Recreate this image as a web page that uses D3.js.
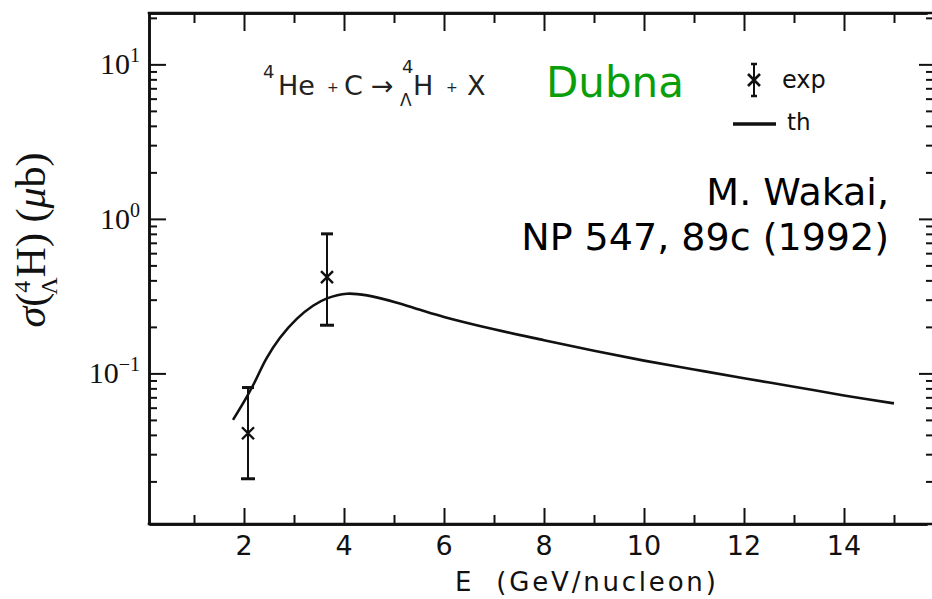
<!DOCTYPE html>
<html>
<head>
<meta charset="utf-8">
<script src="https://cdn.jsdelivr.net/npm/d3@7"></script>
<style>
  body { margin: 0; background: #fff; }
  svg { display: block; }
  .axis path, .axis line { stroke: #111; }
</style>
</head>
<body>
<svg id="chart" width="932" height="599"></svg>
<script>
//Theory curve
const curveE = [1.78, 2.05, 2.2, 2.45, 2.72, 3.06, 3.38, 3.66, 4.06, 4.46, 5.06, 5.52, 6, 7, 8, 9, 10, 11, 12, 13, 14, 15];
const curveSigma = [0.05, 0.07, 0.086, 0.125, 0.17, 0.226, 0.274, 0.306, 0.328, 0.32, 0.287, 0.258, 0.232, 0.193, 0.164, 0.14, 0.121, 0.106, 0.093, 0.082, 0.072, 0.064];

//Experimental points with error bars
const expE = [2.08, 3.66];
const expSigma = [0.041, 0.42];
const expLo = [0.0208, 0.205];
const expHi = [0.081, 0.8];

//Tick values
const xMajor = [2, 4, 6, 8, 10, 12, 14];
const xMinor = [1, 3, 5, 7, 9, 11, 13, 15];
const yMajor = [0.1, 1, 10];
const yMajorExp = ["\u22121", "0", "1"];

const ink = "#111";
const svg = d3.select("#chart");

//Scales ----------
const x = d3.scaleLinear().domain([0.1, 15.66]).range([149, 927]);
const y = d3.scaleLog().domain([0.0106, 21.5]).range([524, 13]);

//Minor log ticks 2..9 for each decade
var yMinor = [];
[0.01, 0.1, 1, 10].forEach(function (d) {
  for (var k = 2; k <= 9; k++) {
    if (d * k < 21.5) yMinor.push(d * k);
  }
});

function drawAxis(axis, tx, ty) {
  const g = svg.append("g").attr("class", "axis").attr("transform", "translate(" + tx + "," + ty + ")").call(axis);
  g.selectAll("path").attr("stroke-width", 2.6).attr("fill", "none");
  g.selectAll("line").attr("stroke-width", 2);
  g.selectAll("text").remove();
  return g;
}

//Bottom and top axes (ticks inward)
drawAxis(d3.axisTop(x).tickValues(xMajor).tickSize(16).tickSizeOuter(0).tickFormat(""), 0, 524);
drawAxis(d3.axisTop(x).tickValues(xMinor).tickSize(9).tickSizeOuter(0).tickFormat(""), 0, 524);
drawAxis(d3.axisBottom(x).tickValues(xMajor).tickSize(18).tickSizeOuter(0).tickFormat(""), 0, 13);
drawAxis(d3.axisBottom(x).tickValues(xMinor).tickSize(10).tickSizeOuter(0).tickFormat(""), 0, 13);
svg.append("line").attr("x1", 147.7).attr("x2", 932).attr("y1", 13).attr("y2", 13).attr("stroke", ink).attr("stroke-width", 2.6);
svg.append("line").attr("x1", 147.7).attr("x2", 932).attr("y1", 524).attr("y2", 524).attr("stroke", ink).attr("stroke-width", 2.6);

//Left and right axes (ticks inward)
drawAxis(d3.axisRight(y).tickValues(yMajor).tickSize(17).tickSizeOuter(0).tickFormat(""), 149, 0);
drawAxis(d3.axisRight(y).tickValues(yMinor).tickSize(8).tickSizeOuter(0).tickFormat(""), 149, 0);
drawAxis(d3.axisLeft(y).tickValues(yMajor).tickSize(14).tickSizeOuter(0).tickFormat(""), 933, 0);
drawAxis(d3.axisLeft(y).tickValues(yMinor).tickSize(7).tickSizeOuter(0).tickFormat(""), 933, 0);

//X tick labels
svg.append("g")
  .selectAll("text")
  .data(xMajor)
  .join("text")
  .attr("x", (d) => x(d))
  .attr("y", 555)
  .attr("text-anchor", "middle")
  .attr("font-family", "DejaVu Sans")
  .attr("font-size", 27)
  .attr("fill", ink)
  .text((d) => d);

//Y tick labels 10^n
const ylab = svg.append("g")
  .selectAll("text")
  .data(yMajor)
  .join("text")
  .attr("x", 140)
  .attr("y", (d) => y(d) + 10)
  .attr("text-anchor", "end")
  .attr("font-family", "Liberation Serif")
  .attr("font-size", 30)
  .attr("fill", ink);
ylab.append("tspan").text("10");
ylab.append("tspan")
  .attr("dy", -12)
  .attr("font-size", 20)
  .text((d, i) => yMajorExp[i]);

//Axis titles
svg.append("text")
  .attr("x", 455)
  .attr("y", 591)
  .attr("font-family", "DejaVu Sans")
  .attr("font-size", 26)
  .attr("letter-spacing", 2.8)
  .attr("fill", ink)
  .attr("xml:space", "preserve")
  .text("E  (GeV/nucleon)");

const ytitle = svg.append("text")
  .attr("transform", "translate(45,240) rotate(-90)")
  .attr("text-anchor", "middle")
  .attr("font-family", "Liberation Serif")
  .attr("font-size", 42)
  .attr("fill", ink);
ytitle.append("tspan").attr("font-style", "italic").text("\u03c3");
ytitle.append("tspan").text("(");
ytitle.append("tspan").attr("font-size", 24).attr("dy", -15).text("4");
ytitle.append("tspan").attr("font-size", 24).attr("dx", -14).attr("dy", 27).text("\u039b");
ytitle.append("tspan").attr("dy", -12).text("H) (");
ytitle.append("tspan").attr("font-style", "italic").text("\u03bc");
ytitle.append("tspan").text("b)");

//Theory line
const line = d3.line()
  .x((d, i) => x(curveE[i]))
  .y((d) => y(d))
  .curve(d3.curveCatmullRom);
svg.append("path")
  .datum(curveSigma)
  .attr("d", line)
  .attr("fill", "none")
  .attr("stroke", ink)
  .attr("stroke-width", 2.6);

//Experimental points
const pts = svg.append("g").selectAll("g").data(expE).join("g");
pts.append("line")
  .attr("x1", (d) => x(d)).attr("x2", (d) => x(d))
  .attr("y1", (d, i) => y(expLo[i])).attr("y2", (d, i) => y(expHi[i]))
  .attr("stroke", ink).attr("stroke-width", 2);
pts.append("line")
  .attr("x1", (d) => x(d) - 7).attr("x2", (d) => x(d) + 7)
  .attr("y1", (d, i) => y(expLo[i])).attr("y2", (d, i) => y(expLo[i]))
  .attr("stroke", ink).attr("stroke-width", 3);
pts.append("line")
  .attr("x1", (d) => x(d) - 6).attr("x2", (d) => x(d) + 6)
  .attr("y1", (d, i) => y(expHi[i])).attr("y2", (d, i) => y(expHi[i]))
  .attr("stroke", ink).attr("stroke-width", 3);
pts.append("path")
  .attr("d", function (d, i) {
    const cx = x(d), cy = y(expSigma[i]), r = 6;
    return "M" + (cx - r) + "," + (cy - r) + "L" + (cx + r) + "," + (cy + r) +
      "M" + (cx + r) + "," + (cy - r) + "L" + (cx - r) + "," + (cy + r);
  })
  .attr("stroke", ink).attr("stroke-width", 2.4).attr("fill", "none");

//Reaction label
const rx = [
  { t: "4", x: 263, y: 78, s: 18 },
  { t: "He", x: 278, y: 95, s: 27 },
  { t: "+", x: 327, y: 92, s: 14 },
  { t: "C", x: 344, y: 95, s: 27 },
  { t: "\u2192", x: 371, y: 95, s: 27 },
  { t: "4", x: 402, y: 73, s: 18 },
  { t: "\u039b", x: 400, y: 106, s: 17 },
  { t: "H", x: 413, y: 95, s: 27 },
  { t: "+", x: 446, y: 92, s: 14 },
  { t: "X", x: 467, y: 95, s: 27 }
];
svg.append("g")
  .selectAll("text")
  .data(rx)
  .join("text")
  .attr("x", (d) => d.x)
  .attr("y", (d) => d.y)
  .attr("font-family", "DejaVu Sans")
  .attr("font-size", (d) => d.s)
  .attr("fill", "#222")
  .text((d) => d.t);

svg.append("text")
  .attr("x", 546)
  .attr("y", 97)
  .attr("font-family", "DejaVu Sans")
  .attr("font-size", 42)
  .attr("fill", "#0b9e0b")
  .text("Dubna");

//Legend
const lg = svg.append("g");
lg.append("line").attr("x1", 754).attr("x2", 754).attr("y1", 64).attr("y2", 96).attr("stroke", ink).attr("stroke-width", 2);
lg.append("line").attr("x1", 751).attr("x2", 757).attr("y1", 64).attr("y2", 64).attr("stroke", ink).attr("stroke-width", 2.5);
lg.append("line").attr("x1", 751).attr("x2", 757).attr("y1", 96).attr("y2", 96).attr("stroke", ink).attr("stroke-width", 2.5);
lg.append("path").attr("d", "M748,74L760,86M760,74L748,86").attr("stroke", ink).attr("stroke-width", 2.6);
lg.append("text").attr("x", 782).attr("y", 88).attr("font-family", "DejaVu Sans").attr("font-size", 24).attr("fill", ink).text("exp");
lg.append("line").attr("x1", 733).attr("x2", 776).attr("y1", 124).attr("y2", 124).attr("stroke", ink).attr("stroke-width", 3.5);
lg.append("text").attr("x", 787).attr("y", 130).attr("font-family", "DejaVu Sans").attr("font-size", 23).attr("fill", ink).text("th");

//Reference note
const note = svg.append("text")
  .attr("text-anchor", "end")
  .attr("font-family", "DejaVu Sans")
  .attr("font-size", 38)
  .attr("fill", "#000");
note.append("tspan").attr("x", 889).attr("y", 205).text("M. Wakai,");
note.append("tspan").attr("x", 889).attr("y", 250).text("NP 547, 89c (1992)");
</script>
</body>
</html>
